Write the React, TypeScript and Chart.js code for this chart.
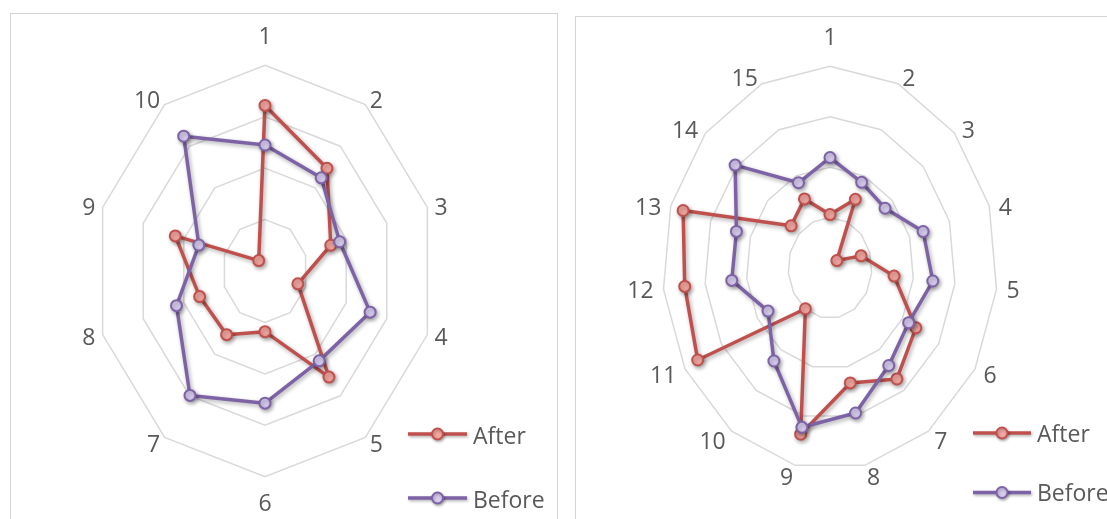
import React, { useEffect, useRef } from 'react';
import { Chart, registerables, RadialLinearScale } from 'chart.js';

Chart.register(...registerables);

// ---------- data ----------
const SERIES_NAMES = ['After', 'Before'];

const LEFT_LABELS = ['1', '2', '3', '4', '5', '6', '7', '8', '9', '10'];
const LEFT_AFTER = [3.22, 2.47, 1.62, 0.81, 2.55, 1.18, 1.53, 1.61, 2.21, 0.25];
const LEFT_BEFORE = [2.45, 2.24, 1.84, 2.59, 2.16, 2.57, 2.99, 2.18, 1.63, 3.24];

const RIGHT_LABELS = ['1', '2', '3', '4', '5', '6', '7', '8', '9', '10', '11', '12', '13', '14', '15'];
const RIGHT_AFTER = [1.06, 1.49, 0.22, 0.78, 1.54, 2.37, 2.72, 2.33, 3.37, 1.0, 3.65, 3.49, 3.69, 1.25, 1.5];
const RIGHT_BEFORE = [2.19, 1.86, 1.77, 2.34, 2.47, 2.17, 2.39, 2.94, 3.23, 2.28, 1.71, 2.36, 2.35, 3.05, 1.85];

const SCALE_MIN = 0;
const SCALE_MAX = 4;
const SCALE_STEP = 1;

// ---------- styles ----------
const FONT_FAMILY = "'Open Sans', 'Noto Sans', sans-serif";
const TEXT_COLOR = '#595959';
const GRID_COLOR = '#D9D9D9';
const AFTER_COLOR = '#C0504D';
const AFTER_FILL = '#F4A7A1';
const BEFORE_COLOR = '#7E62A6';
const BEFORE_FILL = '#D8CDF0';
const SQUASH = 0.83; // horizontal squeeze of the radar polygons

// radial scale whose polygons are squeezed horizontally (text stays upright)
class EllipticRadialScale extends RadialLinearScale {
  static id = 'ellipticRadial';
  getPointPosition(index: number, distanceFromCenter: number, additionalAngle = 0) {
    const p = super.getPointPosition(index, distanceFromCenter, additionalAngle);
    return { x: this.xCenter + (p.x - this.xCenter) * SQUASH, y: p.y, angle: p.angle };
  }
  fit() {
    super.fit();
    const self = this as any;
    const items = self._pointLabelItems;
    const nudge = (self.options && self.options.labelNudge) || 0;
    const n = self._pointLabels ? self._pointLabels.length : 0;
    if (!items || !nudge) return;
    items.forEach((it: any, i: number) => {
      const c = Math.cos((i / n) * Math.PI * 2);
      if (c > 0 && c < 0.99) {
        it.y += nudge;
        it.top += nudge;
        it.bottom += nudge;
      }
    });
  }
}
Chart.register(EllipticRadialScale as any);

const lineShadow = {
  id: 'lineShadow',
  beforeDatasetsDraw(chart: any) {
    const c = chart.ctx;
    c.save();
    c.shadowColor = 'rgba(0,0,0,0.33)';
    c.shadowBlur = 4;
    c.shadowOffsetX = 1.5;
    c.shadowOffsetY = 2;
  },
  afterDatasetsDraw(chart: any) {
    chart.ctx.restore();
  },
};

const cornerLegend = {
  id: 'cornerLegend',
  afterDraw(chart: any, _args: any, opts: any) {
    const ctx = chart.ctx;
    chart.data.datasets.forEach((ds: any, i: number) => {
      const y = opts.y + i * opts.rowGap;
      ctx.save();
      ctx.shadowColor = 'rgba(0,0,0,0.3)';
      ctx.shadowBlur = 3;
      ctx.shadowOffsetX = 1;
      ctx.shadowOffsetY = 1.5;
      ctx.strokeStyle = ds.borderColor;
      ctx.lineWidth = ds.borderWidth;
      ctx.beginPath();
      ctx.moveTo(opts.x, y);
      ctx.lineTo(opts.x + opts.lineLength, y);
      ctx.stroke();
      ctx.beginPath();
      ctx.arc(opts.x + opts.lineLength / 2, y, ds.pointRadius, 0, Math.PI * 2);
      ctx.fillStyle = ds.pointBackgroundColor;
      ctx.fill();
      ctx.lineWidth = ds.pointBorderWidth;
      ctx.strokeStyle = ds.pointBorderColor;
      ctx.stroke();
      ctx.restore();
      ctx.save();
      ctx.font = `${opts.fontSize}px ${FONT_FAMILY}`;
      ctx.fillStyle = TEXT_COLOR;
      ctx.textAlign = 'left';
      ctx.textBaseline = 'middle';
      ctx.fillText(ds.label, opts.x + opts.lineLength + opts.gap, y + opts.textDy);
      ctx.restore();
    });
  },
};

type PanelProps = {
  labels: string[];
  after: number[];
  before: number[];
  width: number;
  height: number;
  padding: { top: number; bottom: number; left: number; right: number };
  padTB: number;
  padSide: number;
  nudge: number;
  legend: { x: number; y: number; rowGap: number; lineLength: number; gap: number; textDy: number; fontSize: number };
};

function RadarPanel(props: PanelProps) {
  const ref = useRef<HTMLCanvasElement | null>(null);
  useEffect(() => {
    if (!ref.current) return;
    const n = props.labels.length;
    const chart = new Chart(ref.current, {
      type: 'radar',
      data: {
        labels: props.labels,
        datasets: [
          {
            label: SERIES_NAMES[0],
            data: props.after,
            borderColor: AFTER_COLOR,
            borderWidth: 3.5,
            pointRadius: 5.5,
            pointBorderWidth: 2,
            pointBackgroundColor: AFTER_FILL,
            pointBorderColor: AFTER_COLOR,
            fill: false,
            order: 2,
          },
          {
            label: SERIES_NAMES[1],
            data: props.before,
            borderColor: BEFORE_COLOR,
            borderWidth: 3.5,
            pointRadius: 5.5,
            pointBorderWidth: 2,
            pointBackgroundColor: BEFORE_FILL,
            pointBorderColor: BEFORE_COLOR,
            fill: false,
            order: 1,
          },
        ],
      },
      options: {
        responsive: false,
        animation: false,
        layout: { padding: props.padding },
        elements: { line: { tension: 0, borderJoinStyle: 'round' } },
        plugins: {
          legend: { display: false },
          tooltip: { enabled: false },
          cornerLegend: props.legend,
        } as any,
        scales: {
          r: {
            type: 'ellipticRadial' as any,
            labelNudge: props.nudge,
            min: SCALE_MIN,
            max: SCALE_MAX,
            ticks: { display: false, stepSize: SCALE_STEP },
            angleLines: { display: false },
            grid: { color: GRID_COLOR, lineWidth: 1.5, circular: false },
            pointLabels: {
              display: true,
              color: TEXT_COLOR,
              font: { family: FONT_FAMILY, size: 23, lineHeight: 0.1 },
              padding: (ctx: any) => {
                const a = (ctx.index / n) * Math.PI * 2;
                return Math.abs(Math.cos(a)) > 0.99 ? props.padTB : props.padSide;
              },
            },
          } as any,
        },
      },
      plugins: [lineShadow, cornerLegend],
    });
    return () => chart.destroy();
  }, []);
  return <canvas ref={ref} width={props.width} height={props.height} style={{ display: 'block' }} />;
}

export default function App() {
  return (
    <div style={{ position: 'absolute', left: 0, top: 0, width: 1107, height: 519, overflow: 'hidden', background: '#fff' }}>
      <div style={{ position: 'absolute', left: 10, top: 13, width: 546, height: 540, border: '1.5px solid #D4D4D4' }} />
      <div style={{ position: 'absolute', left: 575, top: 16, width: 560, height: 540, border: '1.5px solid #D4D4D4' }} />
      <div style={{ position: 'absolute', left: 11, top: 14 }}>
        <RadarPanel
          labels={LEFT_LABELS}
          after={LEFT_AFTER}
          before={LEFT_BEFORE}
          width={546}
          height={505}
          padding={{ top: 22, bottom: 13, left: 0, right: 38 }}
          padTB={27}
          padSide={9}
          nudge={5}
          legend={{ x: 397, y: 420, rowGap: 64, lineLength: 59, gap: 6, textDy: 3, fontSize: 23 }}
        />
      </div>
      <div style={{ position: 'absolute', left: 577, top: 17 }}>
        <RadarPanel
          labels={RIGHT_LABELS}
          after={RIGHT_AFTER}
          before={RIGHT_BEFORE}
          width={530}
          height={502}
          padding={{ top: 10, bottom: 30, left: 0, right: 24 }}
          padTB={27}
          padSide={12}
          nudge={8}
          legend={{ x: 396, y: 416, rowGap: 59.5, lineLength: 58, gap: 6, textDy: 2, fontSize: 23 }}
        />
      </div>
    </div>
  );
}
